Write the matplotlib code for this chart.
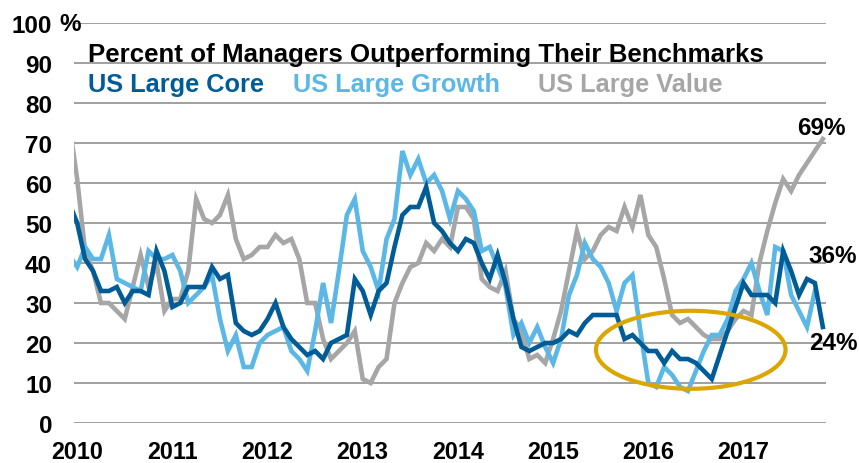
import numpy as np
import matplotlib
matplotlib.use("Agg")
import matplotlib.pyplot as plt
from matplotlib.patches import Ellipse

plt.rcParams['font.family'] = ['Liberation Sans', 'DejaVu Sans']
plt.rcParams['font.weight'] = 'bold'

# ---------------- data (monthly, Dec 2009 .. Nov 2017) ----------------
years = ["2010", "2011", "2012", "2013", "2014", "2015", "2016", "2017"]

core = [55, 50, 41, 38, 33, 33, 34, 30, 33, 33,
        32, 43, 38, 29, 30, 34, 34, 34, 39, 36,
        37, 25, 23, 22, 23, 26, 30, 24, 21, 19,
        17, 18, 16, 20, 21, 22, 36, 33, 27, 33,
        35, 44, 52, 54, 54, 59, 50, 48, 45, 43,
        46, 45, 40, 36, 42, 35, 26, 19, 18, 19,
        20, 20, 21, 23, 22, 25, 27, 27, 27, 27,
        21, 22, 20, 18, 18, 15, 18, 16, 16, 15,
        13, 11, 17, 23, 29, 35, 32, 32, 32, 30,
        43, 38, 32, 36, 35, 24]

growth = [42, 39, 44, 41, 41, 47, 36, 35, 34, 33,
          43, 41, 41, 42, 38, 30, 32, 34, 37, 26,
          18, 22, 14, 14, 20, 22, 23, 24, 18, 16,
          13, 23, 35, 25, 38, 52, 56, 43, 39, 33,
          46, 51, 68, 62, 66, 60, 62, 58, 51, 58,
          56, 53, 43, 44, 39, 34, 22, 25, 20, 24,
          19, 15, 21, 32, 37, 45, 41, 39, 35, 28,
          35, 37, 23, 10, 9, 14, 12, 9, 8, 13,
          18, 22, 22, 26, 33, 36, 40, 33, 27, 44,
          43, 32, 28, 24, 33, np.nan]

value = [75, 61, 43, 38, 30, 30, 28, 26, 34, 42,
         34, 40, 28, 31, 31, 38, 56, 51, 50, 52,
         57, 46, 41, 42, 44, 44, 47, 45, 46, 41,
         30, 30, 21, 16, 18, 20, 23, 11, 10, 14,
         16, 30, 35, 39, 40, 45, 43, 46, 44, 54,
         54, 51, 36, 34, 33, 38, 26, 23, 16, 17,
         15, 21, 28, 38, 48, 41, 43, 47, 49, 48,
         54, 49, 57, 47, 44, 36, 27, 25, 26, 24,
         22, 21, 21, 23, 26, 28, 27, 40, 48, 55,
         61, 58, 62, 65, 68, 71]

series_names = ["US Large Core", "US Large Growth", "US Large Value"]
end_labels = ["24%", "36%", "69%"]

# ---------------- style ----------------
c_core = "#005C96"
c_growth = "#5BB7E6"
c_value = "#A6A6A6"
c_gold = "#DCA600"
grid_c = "#A0A0A0"
FS = 17.5

W, H = 859, 464
fig = plt.figure(figsize=(W / 100, H / 100), dpi=100)
ax = fig.add_axes([74 / W, 1 - 424 / H, (826 - 74) / W, (424 - 24) / H])

x = np.arange(len(core))
ax.plot(x, value, color=c_value, lw=3.3, solid_joinstyle='miter', zorder=3)
ax.plot(x, growth, color=c_growth, lw=3.3, solid_joinstyle='miter', zorder=4)
ax.plot(x, core, color=c_core, lw=3.3, solid_joinstyle='miter', zorder=5)

ax.set_xlim(0.6, 95.4)
ax.set_ylim(0, 100)

yt = np.arange(0, 101, 10)
ax.set_yticks(yt)
ax.set_yticklabels([str(v) for v in yt])
ax.set_xticks([1 + 12 * j for j in range(len(years))])
ax.set_xticklabels(years)
ax.tick_params(axis='y', length=0, pad=15.8, labelsize=FS)
ax.tick_params(axis='x', length=0, pad=12.0, labelsize=16.8)
for lab in ax.get_xticklabels() + ax.get_yticklabels():
    lab.set_fontweight('bold')

ax.grid(axis='y', color=grid_c, lw=1.4, zorder=0)
ax.grid(axis='x', visible=False)
for s in ax.spines.values():
    s.set_visible(False)
ax.set_axisbelow(True)

# percent sign next to 100
ax.text(-1.2, 100, "%", ha='left', va='center',
        fontsize=FS, fontweight='bold', clip_on=False)

# ellipse highlight
ax.add_patch(Ellipse((78.35, 18.3), 23.9, 19.5, fill=False, edgecolor=c_gold,
                     lw=3.0, zorder=6))

# end labels
ax.text(94.8, 74, end_labels[2], ha='center', va='center', fontsize=FS,
        fontweight='bold', clip_on=False)
ax.text(96.3, 41.8, end_labels[1], ha='center', va='center', fontsize=FS,
        fontweight='bold', clip_on=False)
ax.text(96.3, 20.0, end_labels[0], ha='center', va='center', fontsize=FS,
        fontweight='bold', clip_on=False)

# title and legend text
fig.text(88 / W, 1 - 62 / H, "Percent of Managers Outperforming Their Benchmarks",
         ha='left', va='baseline', fontsize=18.6, fontweight='bold', color='black')
leg_x = [88, 293, 538]
leg_c = [c_core, c_growth, c_value]
for name, lx, lc in zip(series_names, leg_x, leg_c):
    fig.text(lx / W, 1 - 92 / H, name, ha='left', va='baseline', fontsize=18.3,
             fontweight='bold', color=lc)

fig.savefig("out.png", dpi=100)
